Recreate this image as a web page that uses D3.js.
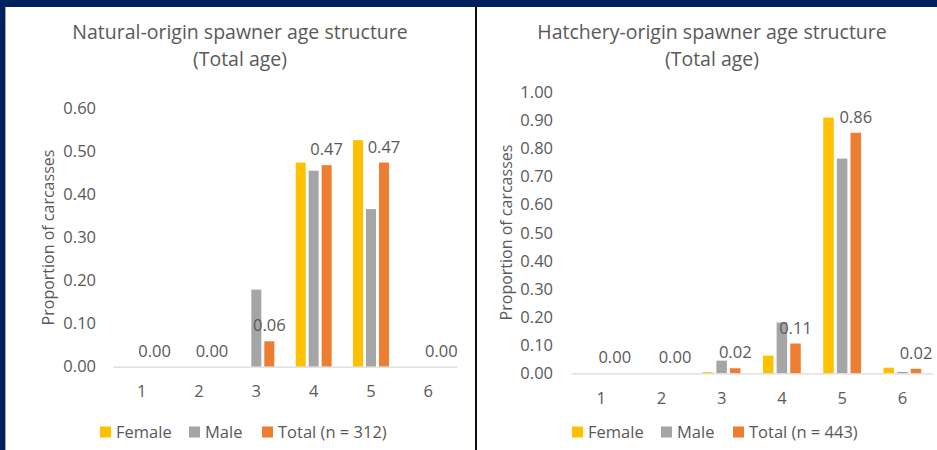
<!DOCTYPE html>
<html>
<head>
<meta charset="utf-8">
<script src="https://cdn.jsdelivr.net/npm/d3@7"></script>
<style>
  html, body { margin: 0; padding: 0; background: #002060; }
  svg { display: block; }
  text { font-family: "Open Sans", "DejaVu Sans", sans-serif; fill: #595959; }
</style>
</head>
<body>
<svg id="chart" width="937" height="450"></svg>
<script>
// ---- Data ----
const ages = ["1", "2", "3", "4", "5", "6"];
const seriesKeys = ["Female", "Male", "Total"];

const naturalTitle = ["Natural-origin spawner age structure", "(Total age)"];
const naturalLegend = ["Female", "Male", "Total (n = 312)"];
const naturalFemale = [0, 0, 0, 0.474, 0.526, 0];
const naturalMale = [0, 0, 0.179, 0.455, 0.366, 0];
const naturalTotal = [0, 0, 0.059, 0.468, 0.474, 0];
const naturalTicks = [0, 0.1, 0.2, 0.3, 0.4, 0.5, 0.6];

const hatcheryTitle = ["Hatchery-origin spawner age structure", "(Total age)"];
const hatcheryLegend = ["Female", "Male", "Total (n = 443)"];
const hatcheryFemale = [0, 0, 0.004, 0.063, 0.910, 0.020];
const hatcheryMale = [0, 0, 0.045, 0.181, 0.764, 0.005];
const hatcheryTotal = [0, 0, 0.018, 0.106, 0.856, 0.016];
const hatcheryTicks = [0, 0.1, 0.2, 0.3, 0.4, 0.5, 0.6, 0.7, 0.8, 0.9, 1.0];

const yAxisTitle = "Proportion of carcasses";
const colors = { Female: "#FFC000", Male: "#A5A5A5", Total: "#ED7D31" };

// ---- Drawing ----
const svg = d3.select("#chart");

// backgrounds
svg.append("rect").attr("x", 0).attr("y", 0).attr("width", 937).attr("height", 450).attr("fill", "#002060");
svg.append("rect").attr("x", 5).attr("y", 7).attr("width", 470).attr("height", 443).attr("fill", "#ffffff");
svg.append("rect").attr("x", 477).attr("y", 7).attr("width", 460).attr("height", 443).attr("fill", "#ffffff");
svg.append("rect").attr("x", 475).attr("y", 7).attr("width", 2).attr("height", 443).attr("fill", "#0b0f1e");
svg.append("rect").attr("x", 5).attr("y", 7).attr("width", 0.8).attr("height", 443).attr("fill", "#8a8fa0");

function drawPanel(cfg) {
  const g = svg.append("g");
  const rows = ages.map((a, i) => ({
    age: a,
    Female: cfg.female[i],
    Male: cfg.male[i],
    Total: cfg.total[i]
  }));

  const x0 = d3.scaleBand().domain(ages).range([cfg.x0, cfg.x1])
    .paddingInner(0.373).paddingOuter(0.1865);
  const x1 = d3.scaleBand().domain(seriesKeys).range([0, x0.bandwidth()])
    .paddingInner(0.23).paddingOuter(0);
  const y = d3.scaleLinear().domain([0, cfg.yMax]).range([cfg.yBottom, cfg.yTop]);

  // title
  g.append("text").attr("x", cfg.titleX).attr("y", 39).attr("text-anchor", "middle")
    .style("font-size", "19.5px").text(cfg.title[0]);
  g.append("text").attr("x", cfg.titleX).attr("y", 66).attr("text-anchor", "middle")
    .style("font-size", "19.5px").text(cfg.title[1]);

  // y axis (labels only)
  const yAxis = d3.axisLeft(y).tickValues(cfg.ticks).tickFormat(d3.format(".2f"))
    .tickSize(0).tickPadding(0);
  const ya = g.append("g").attr("transform", `translate(${cfg.tickX},0)`).call(yAxis);
  ya.select(".domain").remove();
  ya.selectAll("text").attr("fill", "#595959")
    .style("font-size", "16.5px").style("font-family", '"Open Sans", sans-serif');

  // y axis title
  g.append("text")
    .attr("transform", `translate(${cfg.yTitleX},${cfg.yTitleY}) rotate(-90)`)
    .attr("text-anchor", "middle").attr("dy", "0.35em")
    .style("font-size", "16px").text(yAxisTitle);

  // bars
  const groups = g.selectAll("g.grp").data(rows).join("g").attr("class", "grp")
    .attr("transform", d => `translate(${x0(d.age)},0)`);
  groups.selectAll("rect").data(d => seriesKeys.map(k => ({ key: k, value: d[k] })))
    .join("rect")
    .attr("x", d => x1(d.key))
    .attr("width", x1.bandwidth())
    .attr("y", d => y(d.value))
    .attr("height", d => y(0) - y(d.value))
    .attr("fill", d => colors[d.key]);

  // x axis
  const xAxis = d3.axisBottom(x0).tickSize(0).tickPadding(0);
  const xa = g.append("g").attr("transform", `translate(0,${y(0)})`).call(xAxis);
  xa.select(".domain").attr("stroke", "#d9d9d9").attr("stroke-width", 1.2);
  xa.selectAll("text").attr("fill", "#595959").attr("y", 25).attr("dy", "0.35em")
    .style("font-size", "16.5px").style("font-family", '"Open Sans", sans-serif');

  // data labels (Total)
  g.selectAll("text.dl").data(rows).join("text").attr("class", "dl")
    .attr("x", d => x0(d.age) + x1("Total") + x1.bandwidth() / 2)
    .attr("y", d => y(d.Total) - 10)
    .attr("text-anchor", "middle")
    .style("font-size", "16.5px")
    .text(d => d3.format(".2f")(d.Total));

  // legend
  const lg = g.append("g");
  seriesKeys.forEach((k, i) => {
    const lx = cfg.legendX[i];
    lg.append("rect").attr("x", lx).attr("y", 426.5).attr("width", 11).attr("height", 11)
      .attr("fill", colors[k]);
    lg.append("text").attr("x", lx + 16).attr("y", 432).attr("dy", "0.35em")
      .style("font-size", "16.5px").text(cfg.legend[i]);
  });
}

drawPanel({
  title: naturalTitle, legend: naturalLegend,
  female: naturalFemale, male: naturalMale, total: naturalTotal,
  ticks: naturalTicks, yMax: 0.6,
  x0: 113, x1: 457, yTop: 108.3, yBottom: 366.7,
  tickX: 96, titleX: 240, yTitleX: 48, yTitleY: 237.5,
  legendX: [100, 189, 262]
});

drawPanel({
  title: hatcheryTitle, legend: hatcheryLegend,
  female: hatcheryFemale, male: hatcheryMale, total: hatcheryTotal,
  ticks: hatcheryTicks, yMax: 1.0,
  x0: 571, x1: 932.5, yTop: 92.3, yBottom: 373.3,
  tickX: 553, titleX: 712, yTitleX: 506, yTitleY: 232.5,
  legendX: [572, 661, 733]
});
</script>
</body>
</html>
